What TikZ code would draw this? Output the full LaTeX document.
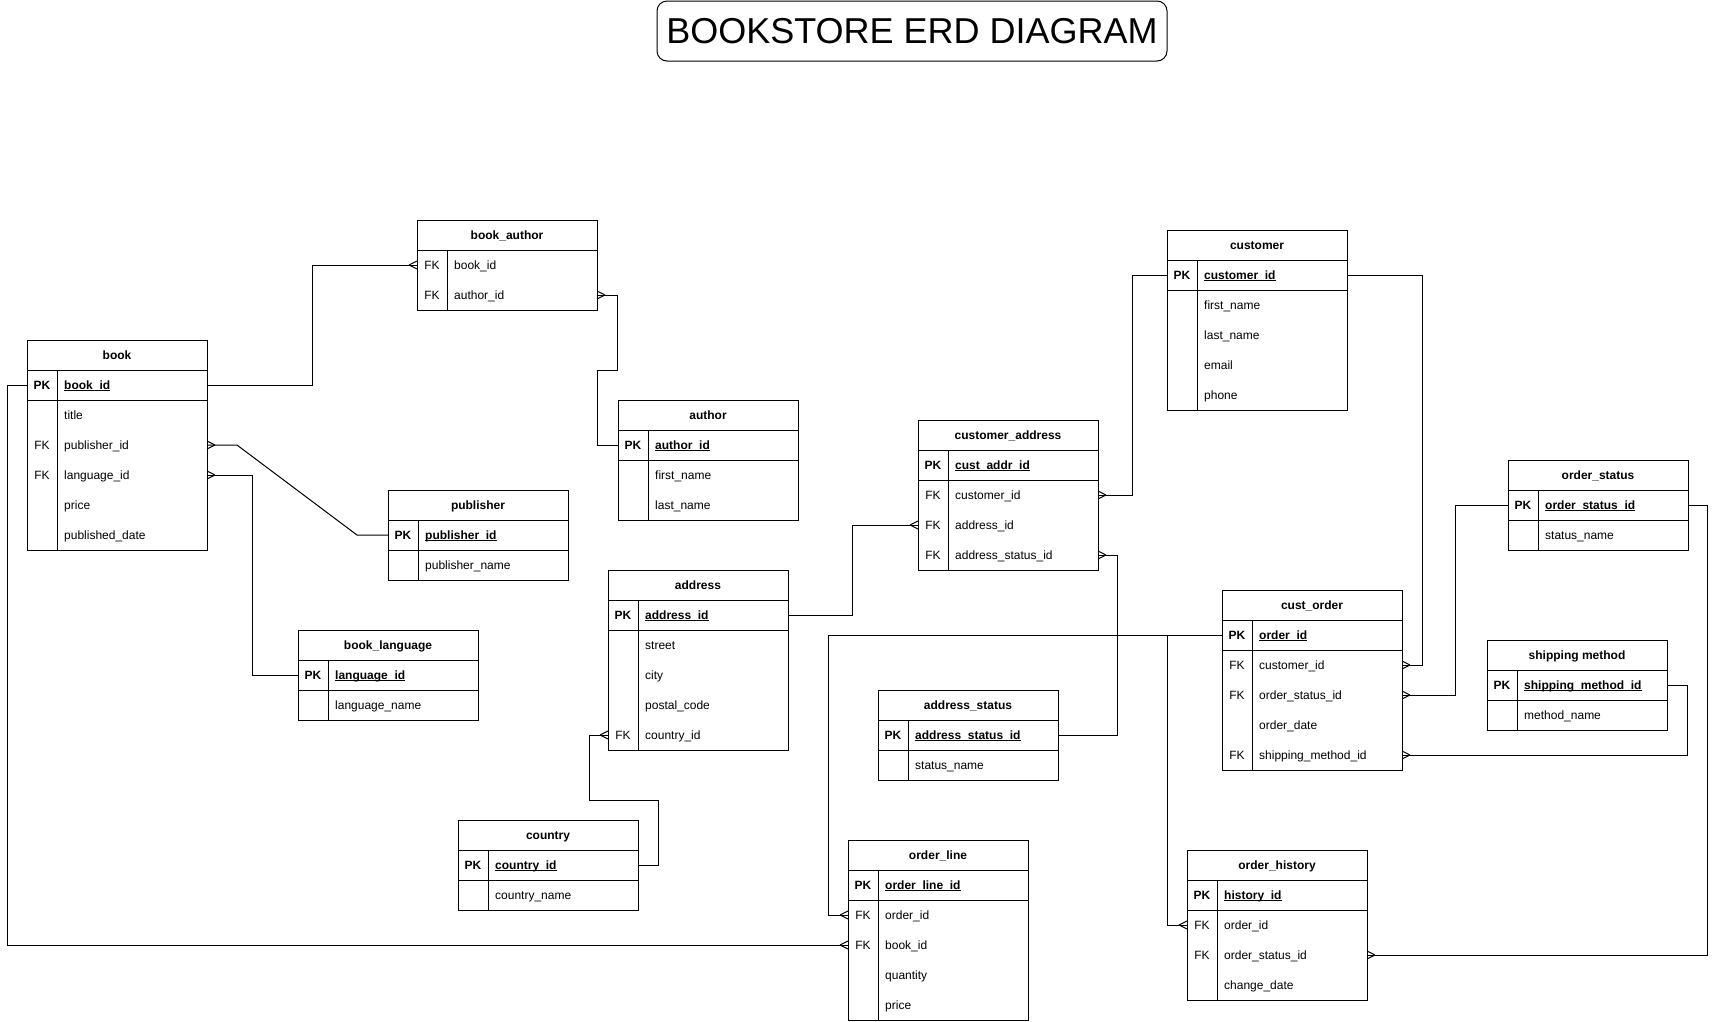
\documentclass[tikz,border=0pt]{standalone}
\usepackage{fontspec}
\setmainfont{Liberation Sans}
\usetikzlibrary{calc}
\tikzset{
  ln/.style={line width=1pt, line join=miter},
  conn/.style={line width=1pt},
  hdr/.style={font=\fontsize{12}{14}\selectfont\bfseries, inner sep=0pt, anchor=base},
  keyt/.style={font=\fontsize{12}{14}\selectfont, inner sep=0pt, anchor=base},
  keyb/.style={font=\fontsize{12}{14}\selectfont\bfseries, inner sep=0pt, anchor=base},
  fld/.style={font=\fontsize{12}{14}\selectfont, inner sep=0pt, anchor=base west},
  fldb/.style={font=\fontsize{12}{14}\selectfont\bfseries, inner sep=0pt, anchor=base west},
  rowbox/.style={inner sep=0pt, outer sep=0pt, minimum width=180pt, minimum height=30pt, anchor=north west},
}
% #1 name, #2 x, #3 y, #4 title, #5 pk field, #6 number of further rows, #7 key/field list
\newcommand\ertable[7]{%
  \node[rowbox] (#1) at (#2,#3) {};
  \node[hdr] (#1-t) at ([yshift=-4.2pt]#1.center) {#4};
  \node[rowbox] (#1-pk) at (#2,#3+30) {};
  \node[keyb] (#1-pk-k) at ([xshift=15pt,yshift=-4.2pt]#1-pk.west) {PK};
  \node[fldb] (#1-pk-f) at ([xshift=37pt,yshift=-4.2pt]#1-pk.west) {\underline{\smash{#5}}};
  \foreach \k/\f [count=\i] in {#7} {
    \node[rowbox] (#1-\i) at (#2,#3+30+30*\i) {};
    \node[keyt] (#1-\i-k) at ([xshift=15pt,yshift=-4.2pt]#1-\i.west) {\k};
    \node[fld] (#1-\i-f) at ([xshift=37pt,yshift=-4.2pt]#1-\i.west) {\f};
  }
  \draw[ln] (#2,#3) rectangle (#2+180,#3+60+30*#6);
  \draw[ln] (#2,#3+30) -- (#2+180,#3+30) (#2,#3+60) -- (#2+180,#3+60)
            (#2+30,#3+30) -- (#2+30,#3+60+30*#6);
}
\newcommand\crowL[1]{\draw[conn] ($(#1)+(-8,0)$) -- ($(#1)+(0,-4)$) ($(#1)+(-8,0)$) -- ($(#1)+(0,4)$);}
\newcommand\crowR[1]{\draw[conn] ($(#1)+(8,0)$) -- ($(#1)+(0,-4)$) ($(#1)+(8,0)$) -- ($(#1)+(0,4)$);}
\begin{document}
\begin{tikzpicture}[x=1pt, y=-1pt]
\useasboundingbox (0,0) rectangle (1717,1021);

\node[draw, ln, rounded corners=10pt, minimum width=510pt, minimum height=60pt, inner sep=0pt,
      font=\fontsize{36}{40}\selectfont] (title) at (912,31) {BOOKSTORE ERD DIAGRAM};

% tables
\ertable{book}{27}{340}{book}{book\_id}{5}{/title, FK/publisher\_id, FK/language\_id, /price, /published\_date}

\node[rowbox] (ba) at (417,220) {};
\node[hdr] (ba-t) at ([yshift=-4.2pt]ba.center) {book\_author};
\node[rowbox] (ba-1) at (417,250) {};
\node[keyt] (ba-1-k) at ([xshift=15pt,yshift=-4.2pt]ba-1.west) {FK};
\node[fld] (ba-1-f) at ([xshift=37pt,yshift=-4.2pt]ba-1.west) {book\_id};
\node[rowbox] (ba-2) at (417,280) {};
\node[keyt] (ba-2-k) at ([xshift=15pt,yshift=-4.2pt]ba-2.west) {FK};
\node[fld] (ba-2-f) at ([xshift=37pt,yshift=-4.2pt]ba-2.west) {author\_id};
\draw[ln] (417,220) rectangle (597,310);
\draw[ln] (417,250) -- (597,250) (447,250) -- (447,310);

\ertable{author}{618}{400}{author}{author\_id}{2}{/first\_name, /last\_name}
\ertable{pub}{388}{490}{publisher}{publisher\_id}{1}{/publisher\_name}
\ertable{lang}{298}{630}{book\_language}{language\_id}{1}{/language\_name}
\ertable{addr}{608}{570}{address}{address\_id}{4}{/street, /city, /postal\_code, FK/country\_id}
\ertable{ctry}{458}{820}{country}{country\_id}{1}{/country\_name}
\ertable{ca}{918}{420}{customer\_address}{cust\_addr\_id}{3}{FK/customer\_id, FK/address\_id, FK/address\_status\_id}
\ertable{ast}{878}{690}{address\_status}{address\_status\_id}{1}{/status\_name}
\ertable{cust}{1167}{230}{customer}{customer\_id}{4}{/first\_name, /last\_name, /email, /phone}
\ertable{os}{1508}{460}{order\_status}{order\_status\_id}{1}{/status\_name}
\ertable{co}{1222}{590}{cust\_order}{order\_id}{4}{FK/customer\_id, FK/order\_status\_id, /order\_date, FK/shipping\_method\_id}
\ertable{sm}{1487}{640}{shipping method}{shipping\_method\_id}{1}{/method\_name}
\ertable{ol}{848}{840}{order\_line}{order\_line\_id}{4}{FK/order\_id, FK/book\_id, /quantity, /price}
\ertable{oh}{1187}{850}{order\_history}{history\_id}{3}{FK/order\_id, FK/order\_status\_id, /change\_date}

% connectors
\draw[conn] (book-pk.east) -- ++(105,0) |- (ba-1.west); \crowL{ba-1.west}
\draw[conn] (ba-2.east) -- ++(20,0) -- ++(0,75) -- ++(-20,0) |- (author-pk.west); \crowR{ba-2.east}
\draw[conn] (book-2.east) -- ++(30,0) -- ([xshift=-31pt]pub-pk.west) -- (pub-pk.west); \crowR{book-2.east}
\draw[conn] (book-3.east) -- ++(45,0) |- (lang-pk.west); \crowR{book-3.east}
\draw[conn] (book-pk.west) -- ++(-20,0) |- (ol-2.west); \crowL{ol-2.west}
\draw[conn] (ctry-pk.east) -- ++(20,0) -- ++(0,-65) -- ++(-69,0) |- (addr-4.west); \crowL{addr-4.west}
\draw[conn] (addr-pk.east) -- ++(64,0) |- (ca-2.west); \crowL{ca-2.west}
\draw[conn] (cust-pk.west) -- ++(-35,0) |- (ca-1.east); \crowR{ca-1.east}
\draw[conn] (ast-pk.east) -- ++(59,0) |- (ca-3.east); \crowR{ca-3.east}
\draw[conn] (cust-pk.east) -- ++(75,0) |- (co-1.east); \crowR{co-1.east}
\draw[conn] (os-pk.west) -- ++(-53,0) |- (co-2.east); \crowR{co-2.east}
\draw[conn] (sm-pk.east) -- ++(20,0) |- (co-4.east); \crowR{co-4.east}
\draw[conn] (os-pk.east) -- ++(19,0) |- (oh-2.east); \crowR{oh-2.east}
\draw[conn] (co-pk.west) -- ++(-394,0) |- (ol-1.west); \crowL{ol-1.west}
\draw[conn] (co-pk.west) -- ++(-55,0) |- (oh-1.west); \crowL{oh-1.west}
\end{tikzpicture}
\end{document}
